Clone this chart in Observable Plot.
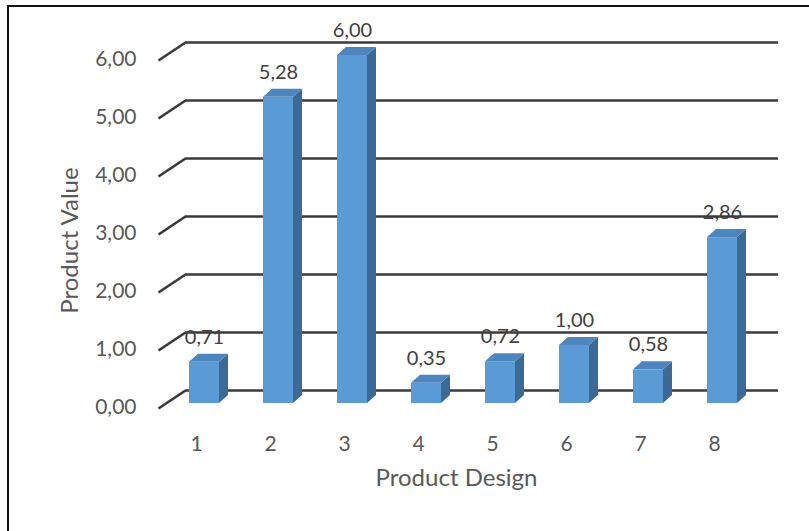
<!DOCTYPE html>
<html>
<head>
<meta charset="utf-8">
<script src="https://cdn.jsdelivr.net/npm/d3@7"></script>
<script src="https://cdn.jsdelivr.net/npm/@observablehq/plot@0.6"></script>
<style>
html, body { margin: 0; padding: 0; background: #fff; overflow: hidden; width: 809px; height: 531px; }
#frame { position: absolute; left: 7px; top: 5px; width: 900px; height: 700px; border-left: 2px solid #111; border-top: 2px solid #111; }
#chart { position: absolute; left: 0; top: 0; }
</style>
</head>
<body>
<div id="frame"></div>
<div id="chart"></div>
<script>
// ---- data ----
const categories = [1, 2, 3, 4, 5, 6, 7, 8];
const values = [0.71, 5.28, 6.00, 0.35, 0.72, 1.00, 0.58, 2.86];
const yTicks = [0, 1, 2, 3, 4, 5, 6];
const xTitle = "Product Design";
const yTitle = "Product Value";

// ---- pseudo-3D geometry (pixels converted to data units) ----
const kx = 74, ky = 58;
const barLeft = -7 / kx, barRight = 23 / kx;
const depthX = 9 / kx, depthY = 8 / ky;
const gridStart = (158 - 122) / kx, gridBack = (185 - 122) / kx, gridEnd = (778 - 122) / kx;
const labelShift = 8 / kx;

const fmt = d => d.toFixed(2).replace(".", ",");
const rows = categories.map((c, i) => ({c, v: values[i]}));
const side = rows.flatMap(d => [
  {c: d.c, x: d.c + barRight, y1: 0, y2: d.v},
  {c: d.c, x: d.c + barRight + depthX, y1: depthY, y2: d.v + depthY}
]);
const topFace = rows.flatMap(d => [
  {c: d.c, x: d.c + barLeft, y1: d.v, y2: d.v},
  {c: d.c, x: d.c + barLeft + depthX, y1: d.v, y2: d.v + depthY},
  {c: d.c, x: d.c + barRight, y1: d.v, y2: d.v + depthY},
  {c: d.c, x: d.c + barRight + depthX, y1: d.v + depthY, y2: d.v + depthY}
]);

const gridColor = "#3a3a3a";
const front = "#5B9BD5", sideColor = "#3C6A96", topColor = "#4D86BE";

const chart = Plot.plot({
  width: 809,
  height: 531,
  marginLeft: 145,
  marginRight: 42,
  marginTop: 55,
  marginBottom: 106,
  style: {fontFamily: "Lato, 'Open Sans', sans-serif", background: "transparent", color: "#595959"},
  x: {domain: [0, 9], range: [122, 788]},
  y: {domain: [0, 6], range: [403, 55]},
  marks: [
    // back-wall gridlines
    Plot.ruleY(yTicks, {y: d => d, x1: gridBack, x2: gridEnd, dy: -13, stroke: gridColor, strokeWidth: 2.6}),
    // floor diagonals
    Plot.link(yTicks, {x1: gridStart, x2: gridBack, y1: d => d, y2: d => d + 18 / ky, dy: 5, stroke: gridColor, strokeWidth: 2.6}),
    // bars: front, side, top
    Plot.rectY(rows, {x1: d => d.c + barLeft, x2: d => d.c + barRight, y: "v", fill: front}),
    Plot.areaY(side, {x: "x", y1: "y1", y2: "y2", z: "c", fill: sideColor}),
    Plot.areaY(topFace, {x: "x", y1: "y1", y2: "y2", z: "c", fill: topColor}),
    // data labels
    Plot.text(rows, {x: d => d.c + labelShift, y: "v", text: d => fmt(d.v), dy: -25, fontSize: 20, fill: "#404040", lineAnchor: "middle"}),
    // axes
    Plot.axisY({ticks: yTicks, tickFormat: fmt, tickSize: 0, tickPadding: 9, dy: 4, fontSize: 21, label: null}),
    Plot.axisX({ticks: categories, tickFormat: d => String(d), tickSize: 0, tickPadding: 11, fontSize: 21, label: null}),
    // titles
    Plot.text([xTitle], {frameAnchor: "bottom", text: d => d, dy: 53, fontSize: 24, textAnchor: "middle", lineAnchor: "middle"}),
    Plot.text([yTitle], {frameAnchor: "left", text: d => d, dx: -75, rotate: -90, fontSize: 24, textAnchor: "middle", lineAnchor: "middle"})
  ]
});
document.getElementById("chart").appendChild(chart);
</script>
</body>
</html>
